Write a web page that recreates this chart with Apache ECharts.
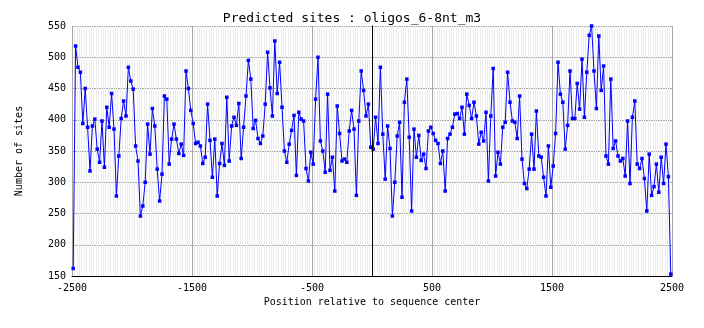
<!DOCTYPE html>
<html>
<head>
<meta charset="utf-8">
<script src="https://cdn.jsdelivr.net/npm/echarts@6/dist/echarts.min.js"></script>
<style>
  html, body { margin: 0; padding: 0; background: #fff; }
  #chart { width: 704px; height: 328px; }
</style>
</head>
<body>
<div id="chart"></div>
<script>
// Window centres (bp, relative to the sequence centre)
const positions = [
  -2490,-2470,-2450,-2430,-2410,-2390,-2370,-2350,-2330,-2310,
  -2290,-2270,-2250,-2230,-2210,-2190,-2170,-2150,-2130,-2110,
  -2090,-2070,-2050,-2030,-2010,-1990,-1970,-1950,-1930,-1910,
  -1890,-1870,-1850,-1830,-1810,-1790,-1770,-1750,-1730,-1710,
  -1690,-1670,-1650,-1630,-1610,-1590,-1570,-1550,-1530,-1510,
  -1490,-1470,-1450,-1430,-1410,-1390,-1370,-1350,-1330,-1310,
  -1290,-1270,-1250,-1230,-1210,-1190,-1170,-1150,-1130,-1110,
  -1090,-1070,-1050,-1030,-1010,-990,-970,-950,-930,-910,
  -890,-870,-850,-830,-810,-790,-770,-750,-730,-710,
  -690,-670,-650,-630,-610,-590,-570,-550,-530,-510,
  -490,-470,-450,-430,-410,-390,-370,-350,-330,-310,
  -290,-270,-250,-230,-210,-190,-170,-150,-130,-110,
  -90,-70,-50,-30,-10,10,30,50,70,90,
  110,130,150,170,190,210,230,250,270,290,
  310,330,350,370,390,410,430,450,470,490,
  510,530,550,570,590,610,630,650,670,690,
  710,730,750,770,790,810,830,850,870,890,
  910,930,950,970,990,1010,1030,1050,1070,1090,
  1110,1130,1150,1170,1190,1210,1230,1250,1270,1290,
  1310,1330,1350,1370,1390,1410,1430,1450,1470,1490,
  1510,1530,1550,1570,1590,1610,1630,1650,1670,1690,
  1710,1730,1750,1770,1790,1810,1830,1850,1870,1890,
  1910,1930,1950,1970,1990,2010,2030,2050,2070,2090,
  2110,2130,2150,2170,2190,2210,2230,2250,2270,2290,
  2310,2330,2350,2370,2390,2410,2430,2450,2470,2490
];

// Number of predicted sites per window
const sites = [
  162,518,484,476,394,450,388,318,390,401,
  353,332,398,324,420,388,442,385,278,342,
  402,430,406,484,462,449,358,334,246,262,
  300,393,345,418,390,321,270,313,438,433,
  329,369,393,369,346,361,343,478,450,415,
  394,362,364,358,330,340,425,367,308,369,
  278,330,362,327,436,334,390,404,391,426,
  338,388,438,495,465,386,399,370,362,374,
  425,508,451,406,526,442,492,420,350,332,
  361,383,407,311,412,401,398,322,302,348,
  329,433,500,366,350,316,441,319,340,286,
  422,378,334,337,332,382,415,385,279,398,
  478,447,406,425,356,353,404,362,484,377,
  305,390,354,246,300,374,396,276,428,465,
  372,254,385,340,375,335,345,322,382,388,
  378,367,362,330,350,286,370,377,388,409,
  410,402,420,377,441,423,402,428,406,361,
  380,366,412,302,406,482,310,348,329,388,
  396,476,428,398,396,370,438,337,298,290,
  321,377,321,414,342,340,308,278,358,292,
  326,378,492,441,428,353,391,478,402,402,
  458,417,497,404,476,535,550,478,418,534,
  447,486,342,329,465,354,366,342,334,338,
  310,398,298,404,430,329,322,338,306,254,
  345,279,293,329,284,340,298,361,309,153
];

const titleText = 'Predicted sites : oligos_6-8nt_m3';
const xTitle = 'Position relative to sequence center';
const yTitle = 'Number of sites';

const mono = '"DejaVu Sans Mono", "Liberation Mono", monospace';
const chart = echarts.init(document.getElementById('chart'), null, { renderer: 'canvas' });

const points = positions.map((p, i) => [p, sites[i]]);
const plain = v => String(v);

chart.setOption({
  animation: false,
  backgroundColor: '#fff',
  title: {
    text: titleText,
    left: 'center',
    top: 7,
    textStyle: { fontFamily: mono, fontSize: 13, fontWeight: 'normal', color: '#000' }
  },
  grid: { left: 72, right: 32, top: 26, bottom: 52 },
  xAxis: {
    type: 'value',
    min: -2500,
    max: 2500,
    interval: 1000,
    name: xTitle,
    nameLocation: 'middle',
    nameGap: 20,
    nameTextStyle: { fontFamily: mono, fontSize: 10, color: '#000' },
    axisLine: { show: true, onZero: false, lineStyle: { color: '#000', width: 1 } },
    axisTick: { show: false },
    axisLabel: { fontFamily: mono, fontSize: 10, color: '#000', margin: 7, formatter: plain },
    splitLine: { show: true, lineStyle: { color: '#a8a8a8', width: 1 } },
    minorTick: { show: false, splitNumber: 50 },
    minorSplitLine: { show: true, lineStyle: { color: '#ebebeb', width: 1 } }
  },
  yAxis: {
    type: 'value',
    min: 150,
    max: 550,
    interval: 50,
    name: yTitle,
    nameLocation: 'middle',
    nameGap: 48,
    nameTextStyle: { fontFamily: mono, fontSize: 10, color: '#000' },
    axisLine: { show: true, lineStyle: { color: '#000', width: 1 } },
    axisTick: { show: false },
    axisLabel: { fontFamily: mono, fontSize: 10, color: '#000', margin: 6, formatter: plain },
    splitLine: { show: true, lineStyle: { color: '#a8a8a8', width: 1 } }
  },
  series: [{
    type: 'line',
    data: points,
    showAllSymbol: true,
    symbol: 'rect',
    symbolSize: 3.5,
    itemStyle: { color: '#0000ff' },
    lineStyle: { color: '#0000ff', width: 1 },
    emphasis: { disabled: true },
    markLine: {
      silent: true,
      symbol: 'none',
      label: { show: false },
      lineStyle: { color: '#000', type: 'solid', width: 1 },
      data: [{ xAxis: 0 }]
    }
  }]
});
</script>
</body>
</html>
